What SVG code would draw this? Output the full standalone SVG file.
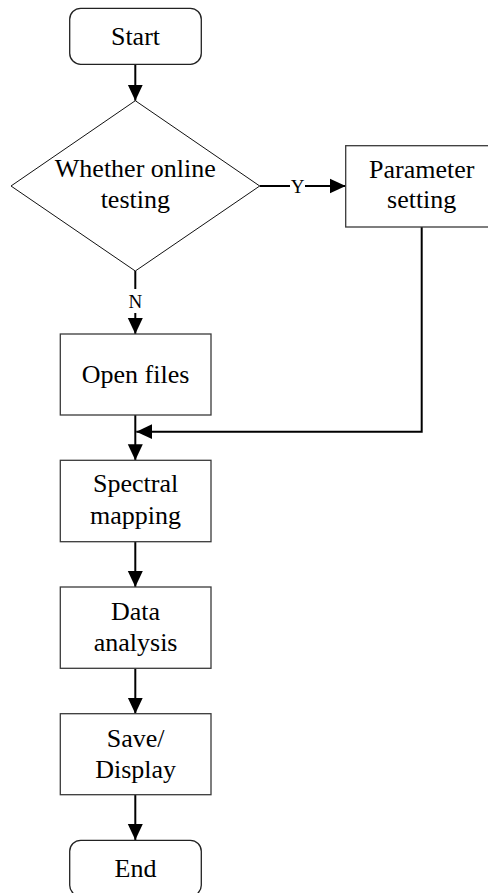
<svg xmlns="http://www.w3.org/2000/svg" width="488" height="893" viewBox="0 0 488 893">
  <style>
    .box { fill: #ffffff; stroke: #3a3a3a; stroke-width: 1.3; }
    .term { fill: #ffffff; stroke: #222222; stroke-width: 1.3; }
    .dec { fill: #ffffff; stroke: #111111; stroke-width: 1; }
    .lbl { font-family: "Liberation Serif", "Times New Roman", serif; font-size: 26px; fill: #000000; text-anchor: middle; }
    .yn { font-family: "Liberation Serif", "Times New Roman", serif; font-size: 19px; fill: #000000; text-anchor: middle; }
    .wire { fill: none; stroke: #000000; stroke-width: 2; }
  </style>
  <defs>
    <marker id="arrow" markerUnits="userSpaceOnUse" markerWidth="16" markerHeight="16" viewBox="0 0 16 16" refX="16" refY="8" orient="auto">
      <path d="M0,0.5 L16,8 L0,15.5 Z" fill="#000000"/>
    </marker>
  </defs>

  <rect width="488" height="893" fill="#ffffff"/>

  <!-- connectors -->
  <g id="connectors">
    <line class="wire" x1="135.3" y1="64.3" x2="135.3" y2="100.7" marker-end="url(#arrow)"/>
    <line class="wire" x1="259.7" y1="186" x2="290" y2="186"/>
    <line class="wire" x1="305" y1="186" x2="345.7" y2="186" marker-end="url(#arrow)"/>
    <text class="yn" x="297.5" y="193">Y</text>
    <line class="wire" x1="135.3" y1="271" x2="135.3" y2="289"/>
    <line class="wire" x1="135.3" y1="313" x2="135.3" y2="334" marker-end="url(#arrow)"/>
    <text class="yn" x="135.3" y="308.3">N</text>
    <polyline class="wire" points="421.7,227 421.7,431.7 136.3,431.7" marker-end="url(#arrow)"/>
    <line class="wire" x1="135.3" y1="415" x2="135.3" y2="460.3" marker-end="url(#arrow)"/>
    <line class="wire" x1="135.3" y1="541.7" x2="135.3" y2="587" marker-end="url(#arrow)"/>
    <line class="wire" x1="135.3" y1="668.3" x2="135.3" y2="713.7" marker-end="url(#arrow)"/>
    <line class="wire" x1="135.3" y1="794.7" x2="135.3" y2="840" marker-end="url(#arrow)"/>
  </g>

  <!-- nodes -->
  <g id="start">
    <rect class="term" x="69.7" y="8.3" width="131.6" height="56" rx="11"/>
    <text class="lbl" x="135.5" y="44.5">Start</text>
  </g>

  <g id="online-test">
    <polygon class="dec" points="135.3,100.7 259.7,186 135.3,271 11,186"/>
    <text class="lbl" x="135.3" y="176.7">Whether online</text>
    <text class="lbl" x="135.3" y="208.3">testing</text>
  </g>

  <g id="parameter-setting">
    <rect class="box" x="345.7" y="145.7" width="152" height="81.3"/>
    <text class="lbl" x="421.7" y="177.7">Parameter</text>
    <text class="lbl" x="421.7" y="208.3">setting</text>
  </g>

  <g id="open-files">
    <rect class="box" x="60.3" y="334" width="150.7" height="81"/>
    <text class="lbl" x="135.6" y="382.7">Open files</text>
  </g>

  <g id="spectral-mapping">
    <rect class="box" x="60.3" y="460.3" width="150.7" height="81.4"/>
    <text class="lbl" x="135.6" y="492.3">Spectral</text>
    <text class="lbl" x="135.6" y="524.3">mapping</text>
  </g>

  <g id="data-analysis">
    <rect class="box" x="60.3" y="587" width="150.7" height="81.3"/>
    <text class="lbl" x="135.6" y="620">Data</text>
    <text class="lbl" x="135.6" y="651">analysis</text>
  </g>

  <g id="save-display">
    <rect class="box" x="60.3" y="713.7" width="150.7" height="81"/>
    <text class="lbl" x="135.6" y="746.7">Save/</text>
    <text class="lbl" x="135.6" y="778.3">Display</text>
  </g>

  <g id="end">
    <rect class="term" x="69.7" y="840.3" width="131.6" height="56" rx="11"/>
    <text class="lbl" x="135.5" y="877.3">End</text>
  </g>
</svg>
